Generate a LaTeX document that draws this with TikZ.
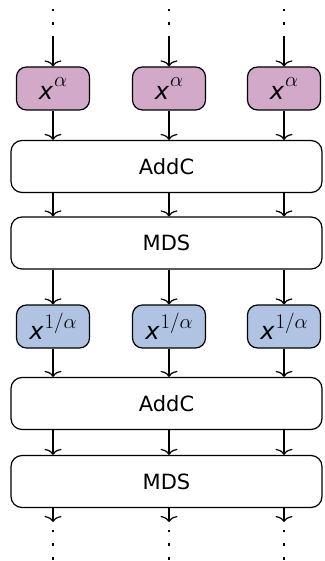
\documentclass[tikz,border=0pt]{standalone}
\usepackage{fontspec}
\setmainfont{DejaVu Sans}
\usetikzlibrary{arrows.meta}
\newcommand{\supx}[2]{{\fontsize{24}{28}\selectfont\itshape x}\kern1pt\raisebox{#2}{\fontsize{21}{24}\selectfont$#1$}}
\begin{document}
\begin{tikzpicture}[x=1pt,y=-1pt,
  line width=1.2pt,
  font=\fontsize{21}{24}\selectfont,
  smallbox/.style={draw, rounded corners=10pt, minimum width=73pt, minimum height=43pt, inner sep=0pt},
  widebox/.style={draw, fill=white, rounded corners=11pt, minimum width=311pt, minimum height=52pt, inner sep=0pt},
  arr/.style={-{To[length=6pt,width=17pt]}},
  dotsline/.style={line width=2.8pt, dash pattern=on 2.8pt off 10.9pt, line cap=butt}
]
\definecolor{pur}{HTML}{D3A9CA}
\definecolor{blu}{HTML}{B0C3E3}
\useasboundingbox (0,0) rectangle (324,561);
\foreach \i/\cx in {1/53,2/169,3/284}{
  \node[smallbox, fill=pur] (p\i) at (\cx,88.5) {\supx{\alpha}{13pt}};
  \node[smallbox, fill=blu] (b\i) at (\cx,326.5) {\supx{1/\alpha}{11pt}};
  \coordinate (t\i) at (\cx,37);
  \coordinate (bot\i) at (\cx,522);
}
\node[widebox] (a1) at (166.5,166.5) {AddC};
\node[widebox] (m1) at (166.5,243) {MDS};
\node[widebox] (a2) at (166.5,403.5) {AddC};
\node[widebox] (m2) at (166.5,481.5) {MDS};
\foreach \i/\cx in {1/53,2/169,3/284}{
  \draw[dotsline] (\cx,8.6) -- (t\i);
  \draw[dotsline] (\cx,529.6) -- (\cx,561);
  \draw[arr] (t\i) -- (p\i);
  \draw[arr] (p\i) -- (p\i |- a1.north);
  \draw[arr] (p\i |- a1.south) -- (p\i |- m1.north);
  \draw[arr] (p\i |- m1.south) -- (b\i);
  \draw[arr] (b\i) -- (b\i |- a2.north);
  \draw[arr] (b\i |- a2.south) -- (b\i |- m2.north);
  \draw[arr] (b\i |- m2.south) -- (bot\i);
}
\end{tikzpicture}
\end{document}
